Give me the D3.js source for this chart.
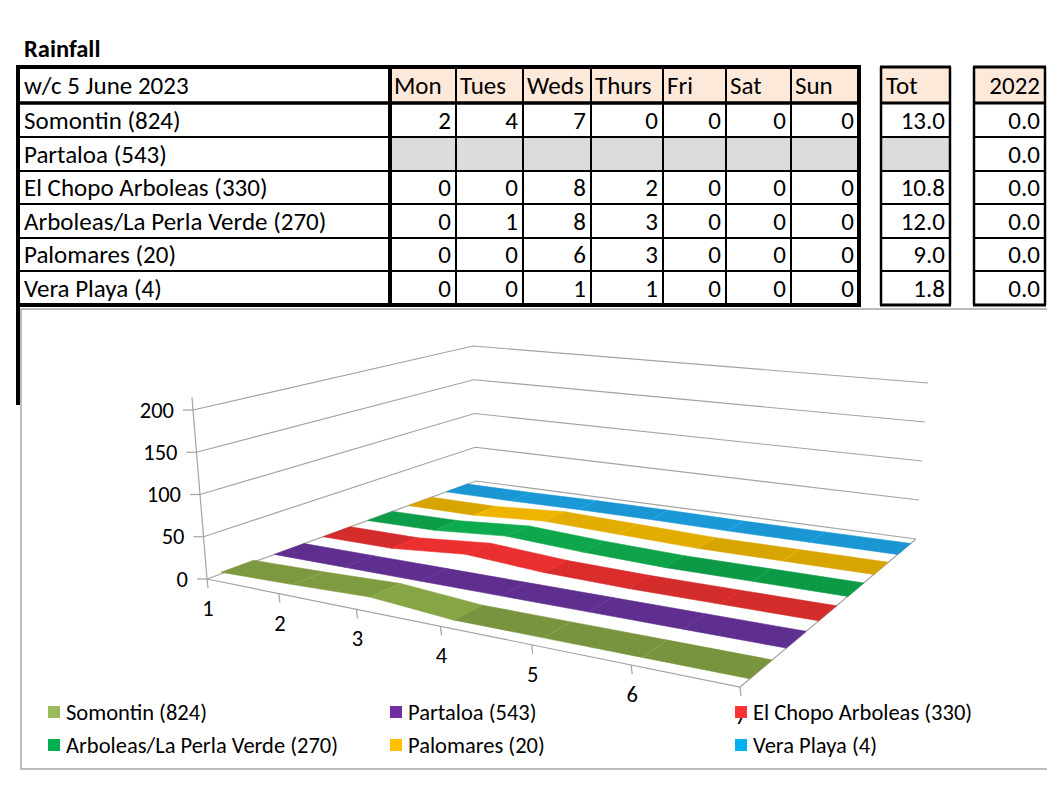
<!DOCTYPE html>
<html>
<head>
<meta charset="utf-8">
<script src="https://cdn.jsdelivr.net/npm/d3@7"></script>
<style>
  body { margin: 0; background: #fff; }
  text { font-family: Carlito, Lato, "Open Sans", sans-serif; fill: #000; }
</style>
</head>
<body>
<svg id="page" width="1060" height="800"></svg>
<script>
// ---- data ----
var title = "Rainfall";
var weekLabel = "w/c 5 June 2023";
var days = ["Mon", "Tues", "Weds", "Thurs", "Fri", "Sat", "Sun"];
var stations = ["Somontin (824)", "Partaloa (543)", "El Chopo Arboleas (330)",
                "Arboleas/La Perla Verde (270)", "Palomares (20)", "Vera Playa (4)"];
var somontin  = [2, 4, 7, 0, 0, 0, 0];
var partaloa  = [null, null, null, null, null, null, null];
var elChopo   = [0, 0, 8, 2, 0, 0, 0];
var arboleas  = [0, 1, 8, 3, 0, 0, 0];
var palomares = [0, 0, 6, 3, 0, 0, 0];
var veraPlaya = [0, 0, 1, 1, 0, 0, 0];
var totals    = [13.0, null, 10.8, 12.0, 9.0, 1.8];
var lastYear  = [0.0, 0.0, 0.0, 0.0, 0.0, 0.0];
var totHeader = "Tot";
var lastYearHeader = "2022";
var yTicks = [0, 50, 100, 150, 200];
var xTickLabels = [1, 2, 3, 4, 5, 6, 7];

var series = [somontin, partaloa, elChopo, arboleas, palomares, veraPlaya];

// colours
var ribbonColors = ["#78943e", "#5e2f8e", "#d42b2b", "#0d9a46", "#d8a400", "#1a97d3"];
var legendColors = ["#9bbb59", "#7030a0", "#ff3333", "#00b050", "#ffc000", "#00b0f0"];
var headFill = "#fde9d9";
var greyFill = "#dcdcdc";
var gridColor = "#a3a3a3";

var svg = d3.select("#page");
var cellFont = "25px";
var axisFont = "22.5px";

// ---------------- table ----------------
var rowY = [67, 103, 137, 171, 204, 238, 271, 305];
var colX = [18, 390, 456, 523, 591, 663, 726, 791, 859];
var totX = [881, 950];
var lyX = [974, 1045];
var pad = 5;

svg.append("text")
    .attr("x", 24).attr("y", 57)
    .style("font-size", "24.5px").style("font-weight", "bold")
    .text(title);

var table = svg.append("g").attr("class", "table");

// header cells
table.append("text")
    .attr("x", colX[0] + 6).attr("y", (rowY[0] + rowY[1]) / 2 + 8.5)
    .style("font-size", cellFont)
    .text(weekLabel);

var head = table.selectAll("g.head").data(days).enter().append("g").attr("class", "head");
head.append("rect")
    .attr("x", function(d, i) { return colX[i + 1]; })
    .attr("y", rowY[0])
    .attr("width", function(d, i) { return colX[i + 2] - colX[i + 1]; })
    .attr("height", rowY[1] - rowY[0])
    .attr("fill", headFill);
head.append("text")
    .attr("x", function(d, i) { return colX[i + 1] + 4; })
    .attr("y", (rowY[0] + rowY[1]) / 2 + 8.5)
    .style("font-size", cellFont)
    .text(function(d) { return d; });

[[totX, totHeader, "start"], [lyX, lastYearHeader, "end"]].forEach(function(b) {
  table.append("rect")
      .attr("x", b[0][0]).attr("y", rowY[0])
      .attr("width", b[0][1] - b[0][0]).attr("height", rowY[1] - rowY[0])
      .attr("fill", headFill);
  table.append("text")
      .attr("x", b[2] == "start" ? b[0][0] + 5 : b[0][1] - pad)
      .attr("y", (rowY[0] + rowY[1]) / 2 + 8.5)
      .attr("text-anchor", b[2])
      .style("font-size", cellFont)
      .text(b[1]);
});

// data rows
var rows = table.selectAll("g.row").data(stations).enter().append("g").attr("class", "row");
rows.each(function(name, r) {
  var g = d3.select(this);
  var y0 = rowY[r + 1], y1 = rowY[r + 2], yt = (y0 + y1) / 2 + 8.5;
  g.append("text").attr("x", colX[0] + 6).attr("y", yt).style("font-size", cellFont).text(name);
  series[r].forEach(function(v, i) {
    if (v == null) {
      g.append("rect").attr("x", colX[i + 1]).attr("y", y0)
          .attr("width", colX[i + 2] - colX[i + 1]).attr("height", y1 - y0).attr("fill", greyFill);
    } else {
      g.append("text").attr("x", colX[i + 2] - pad).attr("y", yt)
          .attr("text-anchor", "end").style("font-size", cellFont).text(v);
    }
  });
  if (totals[r] == null) {
    g.append("rect").attr("x", totX[0]).attr("y", y0)
        .attr("width", totX[1] - totX[0]).attr("height", y1 - y0).attr("fill", greyFill);
  } else {
    g.append("text").attr("x", totX[1] - pad).attr("y", yt)
        .attr("text-anchor", "end").style("font-size", cellFont).text(totals[r].toFixed(1));
  }
  g.append("text").attr("x", lyX[1] - pad).attr("y", yt)
      .attr("text-anchor", "end").style("font-size", cellFont).text(lastYear[r].toFixed(1));
});

// borders
function hline(x0, x1, y, w) {
  table.append("line").attr("x1", x0).attr("x2", x1).attr("y1", y).attr("y2", y)
      .attr("stroke", "#000").attr("stroke-width", w);
}
function vline(x, y0, y1, w) {
  table.append("line").attr("x1", x).attr("x2", x).attr("y1", y0).attr("y2", y1)
      .attr("stroke", "#000").attr("stroke-width", w);
}
rowY.forEach(function(y, i) {
  var last = i == rowY.length - 1;
  var w = (i == 0 || last) ? 4 : (i == 1 ? 3.5 : 2);
  hline(colX[0] - 2, colX[colX.length - 1] + 2, y, w);
  hline(totX[0] - 1, totX[1] + 1, y, i == 0 || i == 1 || last ? 3 : 2);
  hline(lyX[0] - 1, lyX[1] + 1, y, i == 0 || i == 1 || last ? 3 : 2);
});
colX.forEach(function(x, i) {
  var w = (i == 0 || i == 1 || i == colX.length - 1) ? 4 : 2;
  vline(x, rowY[0], i == 0 ? 405 : rowY[rowY.length - 1], w);
});
[totX, lyX].forEach(function(b) {
  vline(b[0], rowY[0], rowY[rowY.length - 1], 2.5);
  vline(b[1], rowY[0], rowY[rowY.length - 1], 2.5);
});

// ---------------- chart ----------------
var chart = svg.append("g").attr("class", "chart");
chart.append("rect")
    .attr("x", 21).attr("y", 309).attr("width", 1026).attr("height", 460)
    .attr("fill", "#fff");
chart.append("path")
    .attr("d", "M1047,309H21V769H1047")
    .attr("fill", "none").attr("stroke", "#a6a6a6").attr("stroke-width", 1.5);

// maps the unit square (u along days, v into depth) onto a screen quad
function quadMap(p) {
  var x0 = p[0][0], y0 = p[0][1], x1 = p[1][0], y1 = p[1][1],
      x2 = p[2][0], y2 = p[2][1], x3 = p[3][0], y3 = p[3][1];
  var dx1 = x1 - x2, dx2 = x3 - x2, dx3 = x0 - x1 + x2 - x3;
  var dy1 = y1 - y2, dy2 = y3 - y2, dy3 = y0 - y1 + y2 - y3;
  var den = dx1 * dy2 - dx2 * dy1;
  var g = (dx3 * dy2 - dx2 * dy3) / den;
  var h = (dx1 * dy3 - dx3 * dy1) / den;
  var a = x1 - x0 + g * x1, b = x3 - x0 + h * x3, c = x0;
  var d = y1 - y0 + g * y1, e = y3 - y0 + h * y3, f = y0;
  return function(u, v) {
    var w = g * u + h * v + 1;
    return [(a * u + b * v + c) / w, (d * u + e * v + f) / w];
  };
}
// floor corners: front-left, front-right, back-right, back-left
var floorMap = quadMap([[207, 579], [740, 687], [916, 539], [476, 481]]);
var topMap = quadMap([[193, 410], [748, 466], [928, 383], [473, 346]]);

var uScale = d3.scaleLinear().domain([1, 7]).range([0, 1]);
var vScale = d3.scaleBand().domain(stations).range([0, 1]).paddingInner(0.4).paddingOuter(0.25);
var hScale = d3.scaleLinear().domain([0, 200]).range([0, 1]);

function project(u, v, val) {
  var a = floorMap(u, v), b = topMap(u, v), t = hScale(val);
  return [a[0] + (b[0] - a[0]) * t, a[1] + (b[1] - a[1]) * t];
}
var line = d3.line();

// walls and floor
var grid = chart.append("g");
yTicks.forEach(function(t) {
  grid.append("path")
      .attr("d", line([project(0, 0, t), project(0, 1, t), project(1, 1, t)]))
      .attr("fill", "none").attr("stroke", gridColor).attr("stroke-width", 1.2);
});
grid.append("path")
    .attr("d", line([project(0, 0, 0), project(1, 0, 0), project(1, 1, 0)]))
    .attr("fill", "none").attr("stroke", gridColor).attr("stroke-width", 1.2);

// y axis
grid.append("path")
    .attr("d", line([project(0, 0, 0), project(0, 0, 215)]))
    .attr("stroke", gridColor).attr("stroke-width", 1.2);
var yAx = chart.selectAll("g.ytick").data(yTicks).enter().append("g").attr("class", "ytick");
yAx.append("line")
    .attr("x1", function(d) { return project(0, 0, d)[0] - 10; })
    .attr("x2", function(d) { return project(0, 0, d)[0]; })
    .attr("y1", function(d) { return project(0, 0, d)[1]; })
    .attr("y2", function(d) { return project(0, 0, d)[1]; })
    .attr("stroke", gridColor).attr("stroke-width", 1.2);
yAx.append("text")
    .attr("x", function(d) { return project(0, 0, d)[0] - 19; })
    .attr("y", function(d) { return project(0, 0, d)[1] + 7.5; })
    .attr("text-anchor", "end")
    .style("font-size", axisFont)
    .text(function(d) { return d; });

// x axis
var xAx = chart.selectAll("g.xtick").data(xTickLabels).enter().append("g").attr("class", "xtick");
xAx.append("line")
    .attr("x1", function(d) { return floorMap(uScale(d), 0)[0]; })
    .attr("x2", function(d) { return floorMap(uScale(d), 0)[0] + 1; })
    .attr("y1", function(d) { return floorMap(uScale(d), 0)[1]; })
    .attr("y2", function(d) { return floorMap(uScale(d), 0)[1] + 9; })
    .attr("stroke", gridColor).attr("stroke-width", 1.2);
xAx.append("text")
    .attr("x", function(d) { return floorMap(uScale(d), 0)[0] + 1; })
    .attr("y", function(d) { return floorMap(uScale(d), 0)[1] + 37; })
    .attr("text-anchor", "middle")
    .style("font-size", axisFont)
    .text(function(d) { return d; });

// ribbons, back to front
var ribbons = chart.append("g").attr("class", "ribbons");
d3.range(series.length).reverse().forEach(function(s) {
  var vals = series[s].map(function(v) { return v == null ? 0 : v; });
  var v0 = vScale(stations[s]), v1 = v0 + vScale.bandwidth();
  var g = ribbons.append("g");
  for (var i = 0; i < vals.length - 1; i++) {
    var ua = uScale(i + 1), ub = uScale(i + 2);
    var slope = Math.abs(vals[i + 1] - vals[i]);
    var col = d3.color(ribbonColors[s]).brighter(Math.min(0.3, slope * 0.045));
    var pts = [project(ua, v0, vals[i]), project(ub, v0, vals[i + 1]),
               project(ub, v1, vals[i + 1]), project(ua, v1, vals[i])];
    g.append("path")
        .attr("d", line(pts) + "Z")
        .attr("fill", col).attr("stroke", col).attr("stroke-width", 0.6);
  }
  for (var j = 1; j < vals.length - 1; j++) {
    g.append("path")
        .attr("d", line([project(uScale(j + 1), v0, vals[j]), project(uScale(j + 1), v1, vals[j])]))
        .attr("stroke", d3.color(ribbonColors[s]).brighter(0.8))
        .attr("stroke-opacity", 0.45).attr("stroke-width", 0.8);
  }
});

// legend
var legCol = [48, 390, 735], legRow = [712, 745];
var leg = chart.selectAll("g.leg").data(stations).enter().append("g").attr("class", "leg")
    .attr("transform", function(d, i) {
      return "translate(" + legCol[i % 3] + "," + legRow[Math.floor(i / 3)] + ")";
    });
leg.append("rect")
    .attr("x", 0).attr("y", -6).attr("width", 12).attr("height", 12)
    .attr("fill", function(d, i) { return legendColors[i]; });
leg.append("text")
    .attr("x", 18).attr("y", 7.5)
    .style("font-size", "22.5px")
    .text(function(d) { return d; });
</script>
</body>
</html>
